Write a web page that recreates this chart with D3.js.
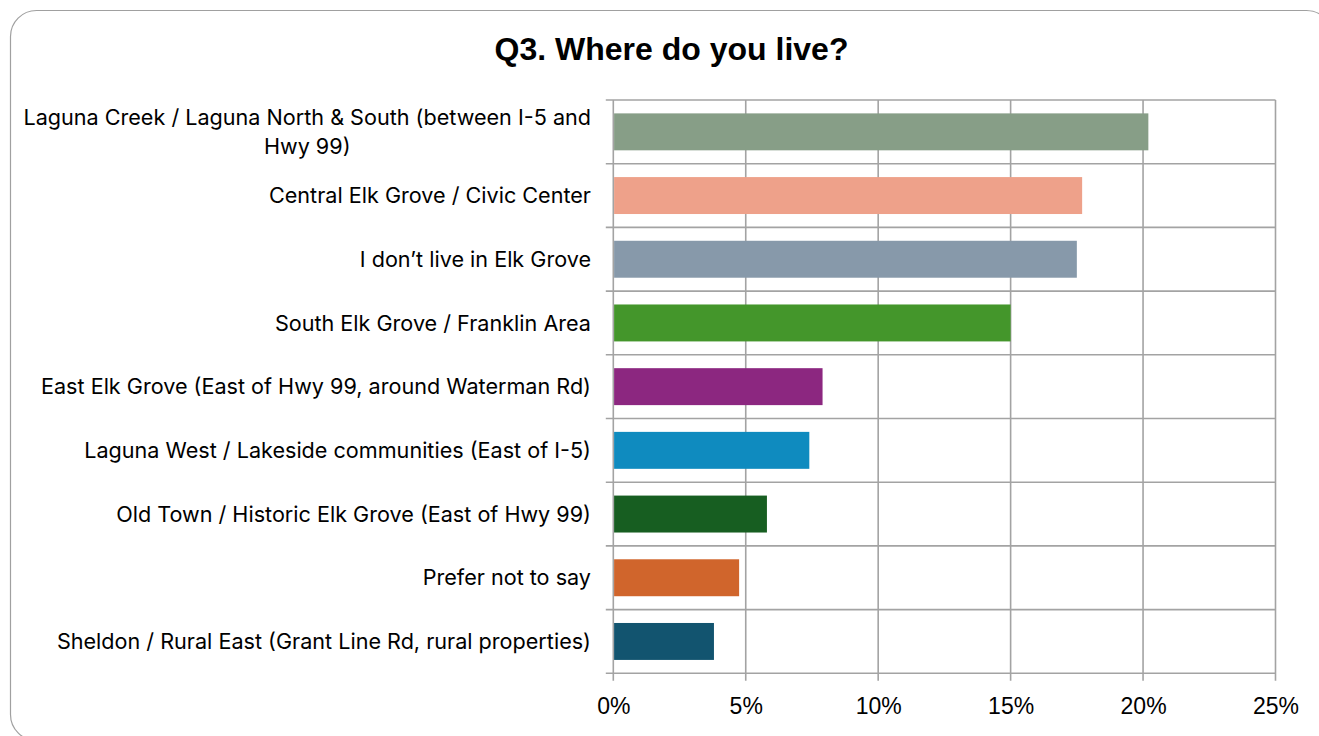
<!DOCTYPE html>
<html>
<head>
<meta charset="utf-8">
<script src="https://cdn.jsdelivr.net/npm/d3@7/dist/d3.min.js"></script>
<style>
  html, body { margin: 0; padding: 0; background: #fff; }
  svg { display: block; }
</style>
</head>
<body>
<svg id="chart" width="1319" height="736"></svg>
<script>
// Survey responses: share of respondents by area of residence
const categories = [
  ["Laguna Creek / Laguna North & South (between I-5 and", "Hwy 99)"],
  ["Central Elk Grove / Civic Center"],
  ["I don\u2019t live in Elk Grove"],
  ["South Elk Grove / Franklin Area"],
  ["East Elk Grove (East of Hwy 99, around Waterman Rd)"],
  ["Laguna West / Lakeside communities (East of I-5)"],
  ["Old Town / Historic Elk Grove (East of Hwy 99)"],
  ["Prefer not to say"],
  ["Sheldon / Rural East (Grant Line Rd, rural properties)"]
];
const shares = [0.202, 0.177, 0.175, 0.150, 0.079, 0.074, 0.058, 0.0475, 0.038];
const barColors = ["#879e87", "#eea18a", "#8799aa", "#44962b", "#8c2780",
                   "#0f8bbf", "#175e21", "#d0652c", "#12546f"];
const tickValues = [0, 0.05, 0.10, 0.15, 0.20, 0.25];
const titleText = "Q3. Where do you live?";

const svg = d3.select("#chart");
const plot = { left: 613.3, right: 1275.5, top: 100, bottom: 673.3 };

// outer chart frame with rounded corners
svg.append("rect")
  .attr("x", 10.5).attr("y", 10.5)
  .attr("width", 1322).attr("height", 730)
  .attr("rx", 26).attr("ry", 26)
  .attr("fill", "#fff")
  .attr("stroke", "#a0a0a0").attr("stroke-width", 1.2);

svg.append("text")
  .attr("x", 671.5).attr("y", 60)
  .attr("text-anchor", "middle")
  .attr("font-family", "Liberation Sans, Arial, sans-serif")
  .attr("font-weight", "bold")
  .attr("font-size", 32)
  .attr("fill", "#000")
  .text(titleText);

const keys = categories.map((c, i) => "c" + i);
const x = d3.scaleLinear().domain([0, 0.25]).range([plot.left, plot.right]);
const y = d3.scaleBand().domain(keys).range([plot.top, plot.bottom])
  .paddingInner(0.42).paddingOuter(0.21);
const step = y.step();

const grid = svg.append("g")
  .attr("stroke", "#a3a3a3").attr("stroke-width", 1.6);

// vertical gridlines, extending below the axis as tick marks
grid.selectAll("line.v").data(tickValues).join("line")
  .attr("class", "v")
  .attr("x1", d => x(d)).attr("x2", d => x(d))
  .attr("y1", plot.top).attr("y2", plot.bottom + 7.5);

// horizontal lines on category boundaries, extending left as tick marks
const bounds = d3.range(keys.length + 1).map(i => y.range()[0] + i * step);
grid.selectAll("line.h").data(bounds).join("line")
  .attr("class", "h")
  .attr("x1", plot.left - 7.5).attr("x2", plot.right)
  .attr("y1", d => d).attr("y2", d => d);

// bars
svg.append("g").selectAll("rect").data(shares).join("rect")
  .attr("x", x(0) + 0.8)
  .attr("y", (d, i) => y(keys[i]))
  .attr("width", d => x(d) - x(0) - 0.8)
  .attr("height", y.bandwidth())
  .attr("fill", (d, i) => barColors[i]);

// x axis labels
const xAxis = d3.axisBottom(x)
  .tickValues(tickValues)
  .tickFormat(d3.format(".0%"))
  .tickSize(0).tickPadding(0);
const gx = svg.append("g")
  .attr("transform", `translate(0,${plot.bottom})`)
  .call(xAxis);
gx.select(".domain").remove();
gx.selectAll("text")
  .attr("dy", null)
  .attr("y", 41)
  .attr("font-family", "Liberation Sans, Arial, sans-serif")
  .attr("font-size", 23)
  .attr("fill", "#000");

// category labels, right-aligned; wrapped lines centred under the first
const labelRight = 591;
const lineGap = 29;
const lg = svg.append("g")
  .attr("font-family", "Inter, Roboto, sans-serif")
  .attr("font-size", 21.6)
  .attr("fill", "#000");
categories.forEach((lines, i) => {
  const cy = y(keys[i]) + y.bandwidth() / 2;
  const y0 = cy - (lines.length - 1) * lineGap / 2;
  const first = lg.append("text")
    .attr("x", labelRight).attr("y", y0)
    .attr("dy", "0.35em")
    .attr("text-anchor", "end")
    .text(lines[0]);
  const w = first.node().getComputedTextLength();
  const mid = labelRight - w / 2;
  lines.slice(1).forEach((ln, j) => {
    lg.append("text")
      .attr("x", mid).attr("y", y0 + (j + 1) * lineGap)
      .attr("dy", "0.35em")
      .attr("text-anchor", "middle")
      .text(ln);
  });
});
</script>
</body>
</html>
